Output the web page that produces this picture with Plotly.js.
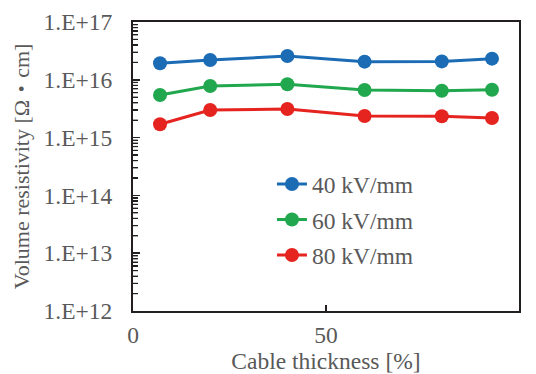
<!DOCTYPE html>
<html>
<head>
<meta charset="utf-8">
<script src="https://cdn.plot.ly/plotly-3.0.1.min.js"></script>
<style>
  html, body { margin: 0; padding: 0; background: #ffffff; }
  #chart { width: 536px; height: 374px; }
</style>
</head>
<body>
<div id="chart"></div>
<script>
// Cable thickness position [%]
const thickness = [7, 20, 40, 60, 80, 93];

// Volume resistivity [Ω・cm] at each applied field
const rho40 = [1.93e16, 2.2e16, 2.58e16, 2.06e16, 2.08e16, 2.32e16];
const rho60 = [5.46e15, 7.8e15, 8.36e15, 6.66e15, 6.48e15, 6.74e15];
const rho80 = [1.70e15, 3.0e15, 3.13e15, 2.36e15, 2.34e15, 2.18e15];

const seriesNames = ['40 kV/mm', '60 kV/mm', '80 kV/mm'];
const seriesColors = ['#1b6cb5', '#21a84f', '#e5231f'];

const yTickVals = [1e12, 1e13, 1e14, 1e15, 1e16, 1e17];
const yTickText = ['1.E+12', '1.E+13', '1.E+14', '1.E+15', '1.E+16', '1.E+17'];
const xTickVals = [0, 50, 100];

const FONT = '"Liberation Serif", "Times New Roman", "Noto Sans CJK JP", serif';
const TEXT = '#595959';
const AXIS = '#231f20';
const FS = 23.5;

// minor log tick positions (2..9 in each decade)
const yMinorVals = [];
for (let e = 12; e < 17; e++) {
  for (let m = 2; m <= 9; m++) yMinorVals.push(m * Math.pow(10, e));
}

// the same minor ticks as short inward strokes on the left axis
const minorTicks = yMinorVals.map(v => ({
  type: 'line', xref: 'paper', yref: 'y', layer: 'above',
  x0: 0, x1: 5 / 386, y0: v, y1: v,
  line: { color: AXIS, width: 1.2 }
}));

const traces = [rho40, rho60, rho80].map((ys, i) => ({
  type: 'scatter',
  mode: 'lines+markers',
  x: thickness,
  y: ys,
  name: seriesNames[i],
  legendgroup: 'g' + i,
  line: { color: seriesColors[i], width: 3 },
  marker: { color: seriesColors[i], size: 14 }
}));

const layout = {
  width: 536,
  height: 374,
  margin: { l: 133, r: 17, t: 22, b: 63 },
  paper_bgcolor: '#ffffff',
  plot_bgcolor: '#ffffff',
  font: { family: FONT, size: FS, color: TEXT },
  showlegend: true,
  legend: {
    x: 0.36, y: 0.515, xanchor: 'left', yanchor: 'top',
    bgcolor: 'rgba(0,0,0,0)',
    font: { family: FONT, size: FS, color: TEXT },
    tracegroupgap: 2
  },
  shapes: minorTicks,
  xaxis: {
    range: [0, 100],
    tickvals: xTickVals,
    ticks: 'inside', ticklen: 6, tickwidth: 1.5, tickcolor: AXIS,
    showline: true, linecolor: AXIS, linewidth: 2, mirror: true,
    showgrid: false, zeroline: false,
    ticklabelstandoff: 2,
    title: { text: 'Cable thickness [%]', font: { family: FONT, size: FS, color: TEXT }, standoff: 2 }
  },
  yaxis: {
    type: 'log',
    range: [12, 17],
    tickvals: yTickVals,
    ticktext: yTickText,
    ticks: 'inside', ticklen: 7, tickwidth: 1.5, tickcolor: AXIS,
    minor: { tickmode: 'array', tickvals: yMinorVals, ticks: 'inside', ticklen: 5, tickwidth: 1.2, tickcolor: AXIS, showgrid: false },
    showline: true, linecolor: AXIS, linewidth: 2, mirror: true,
    showgrid: false, zeroline: false,
    ticklabelstandoff: 14,
    title: { text: 'Volume resistivity [Ω・cm]', font: { family: FONT, size: 22, color: TEXT }, standoff: 8 }
  }
};

Plotly.newPlot('chart', traces, layout, { staticPlot: true, displayModeBar: false });
</script>
</body>
</html>
